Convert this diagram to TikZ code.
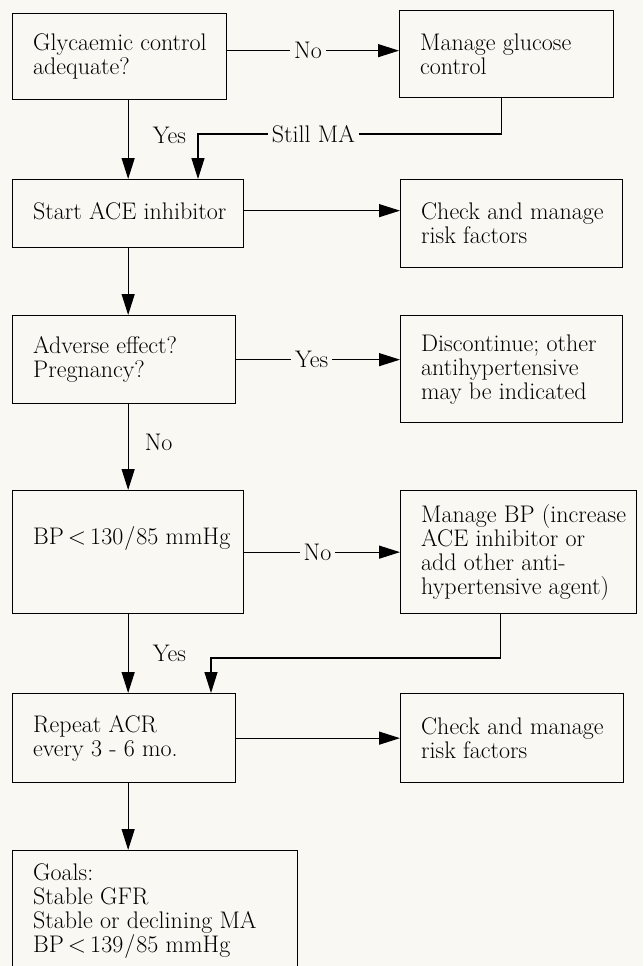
\documentclass[tikz,border=0pt]{standalone}
\usepackage{fontspec}
\usetikzlibrary{arrows.meta}
\definecolor{paper}{RGB}{249,248,243}
\tikzset{
  box/.style={draw, line width=1.3pt, anchor=north west, inner sep=0pt},
  txt/.style={anchor=west, align=left, inner sep=0pt, font=\fontsize{24}{24}\selectfont},
  arr/.style={line width=1.2pt, -{Triangle[length=21pt,width=13pt]}},
  lbl/.style={fill=paper, inner sep=4pt, font=\fontsize{24}{24}\selectfont},
  side/.style={anchor=west, inner sep=0pt, font=\fontsize{24}{24}\selectfont},
}

\begin{document}
\begin{tikzpicture}[x=1pt, y=-1pt]
    \fill[paper] (0,0) rectangle (643,966);
    \useasboundingbox (0,0) rectangle (643,966);
    \node[box, minimum width=214pt, minimum height=86pt] (glyc) at (12,13) {};
    \node[txt] (glycT) at ([xshift=21pt]glyc.west) {Glycaemic control\\adequate?};
    \node[box, minimum width=214pt, minimum height=87pt] (gluc) at (399,10) {};
    \node[txt] (glucT) at ([xshift=21pt]gluc.west) {Manage glucose\\control};
    \node[box, minimum width=231pt, minimum height=68pt] (ace) at (12,179) {};
    \node[txt] (aceT) at ([xshift=21pt, yshift=2pt]ace.west) {Start ACE inhibitor};
    \node[box, minimum width=222pt, minimum height=88pt] (riskA) at (400,179) {};
    \node[txt] (riskAT) at ([xshift=21pt]riskA.west) {Check and manage\\risk factors};
    \node[box, minimum width=223pt, minimum height=88pt] (adv) at (12,315) {};
    \node[txt] (advT) at ([xshift=21pt]adv.west) {Adverse effect?\\Pregnancy?};
    \node[box, minimum width=222pt, minimum height=107pt] (disc) at (400,315) {};
    \node[txt] (discT) at ([xshift=21pt]disc.west) {Discontinue; other\\antihypertensive\\may be indicated};
    \node[box, minimum width=231pt, minimum height=123pt] (bp) at (12,490) {};
    \node[txt] (bpT) at ([xshift=21pt, yshift=14pt]bp.west) {BP\,<\,130\kern1pt/\kern1pt85 mmHg};
    \node[box, minimum width=236pt, minimum height=123pt] (mbp) at (400,490) {};
    \node[txt] (mbpT) at ([xshift=21pt]mbp.west) {Manage BP (increase\\ACE inhibitor or\\add other anti-\\hypertensive agent)};
    \node[box, minimum width=223pt, minimum height=89pt] (acr) at (12,693) {};
    \node[txt] (acrT) at ([xshift=21pt]acr.west) {Repeat ACR\\every 3 - 6 mo.};
    \node[box, minimum width=223pt, minimum height=89pt] (riskB) at (400,693) {};
    \node[txt] (riskBT) at ([xshift=21pt]riskB.west) {Check and manage\\risk factors};
    \node[box, minimum width=285pt, minimum height=120pt] (goals) at (12,850) {};
    \node[txt] (goalsT) at ([xshift=21pt]goals.west) {Goals:\\Stable GFR\\Stable or declining MA\\BP\,<\,139\kern1pt/\kern1pt85 mmHg};
    \coordinate (still) at (198,134);
    \coordinate (back) at (211,658);
    \draw[arr] ([yshift=6pt]glyc.east) -- ([yshift=6pt]glyc.east -| gluc.west) node[lbl, pos=.47] {No};
    \draw[arr] (glyc.south -| ace.north) -- node[side, pos=.45, xshift=24pt] {Yes} (ace.north);
    \draw[arr] ([xshift=-5pt]gluc.south) |- node[lbl, pos=.81] {Still MA} (still) -- (still |- ace.north);
    \draw[arr] ([yshift=3pt]ace.east) -- ([yshift=3pt]ace.east -| riskA.west);
    \draw[arr] (ace.south) -- (ace.south |- adv.north);
    \draw[arr] (adv.east) -- (adv.east -| disc.west) node[lbl, pos=.46] {Yes};
    \draw[arr] (adv.south -| bp.north) -- node[side, pos=.45, xshift=16pt] {No} (bp.north);
    \draw[arr] (bp.east) -- (bp.east -| mbp.west) node[lbl, pos=.47] {No};
    \draw[arr] (bp.south) -- node[side, pos=.5, xshift=24pt] {Yes} (bp.south |- acr.north);
    \draw[arr] ([xshift=-18pt]mbp.south) |- (back) -- (back |- acr.north);
    \draw[arr] (acr.east) -- (acr.east -| riskB.west);
    \draw[arr] (acr.south -| bp.south) -- (bp.south |- goals.north);
\end{tikzpicture}
\end{document}
